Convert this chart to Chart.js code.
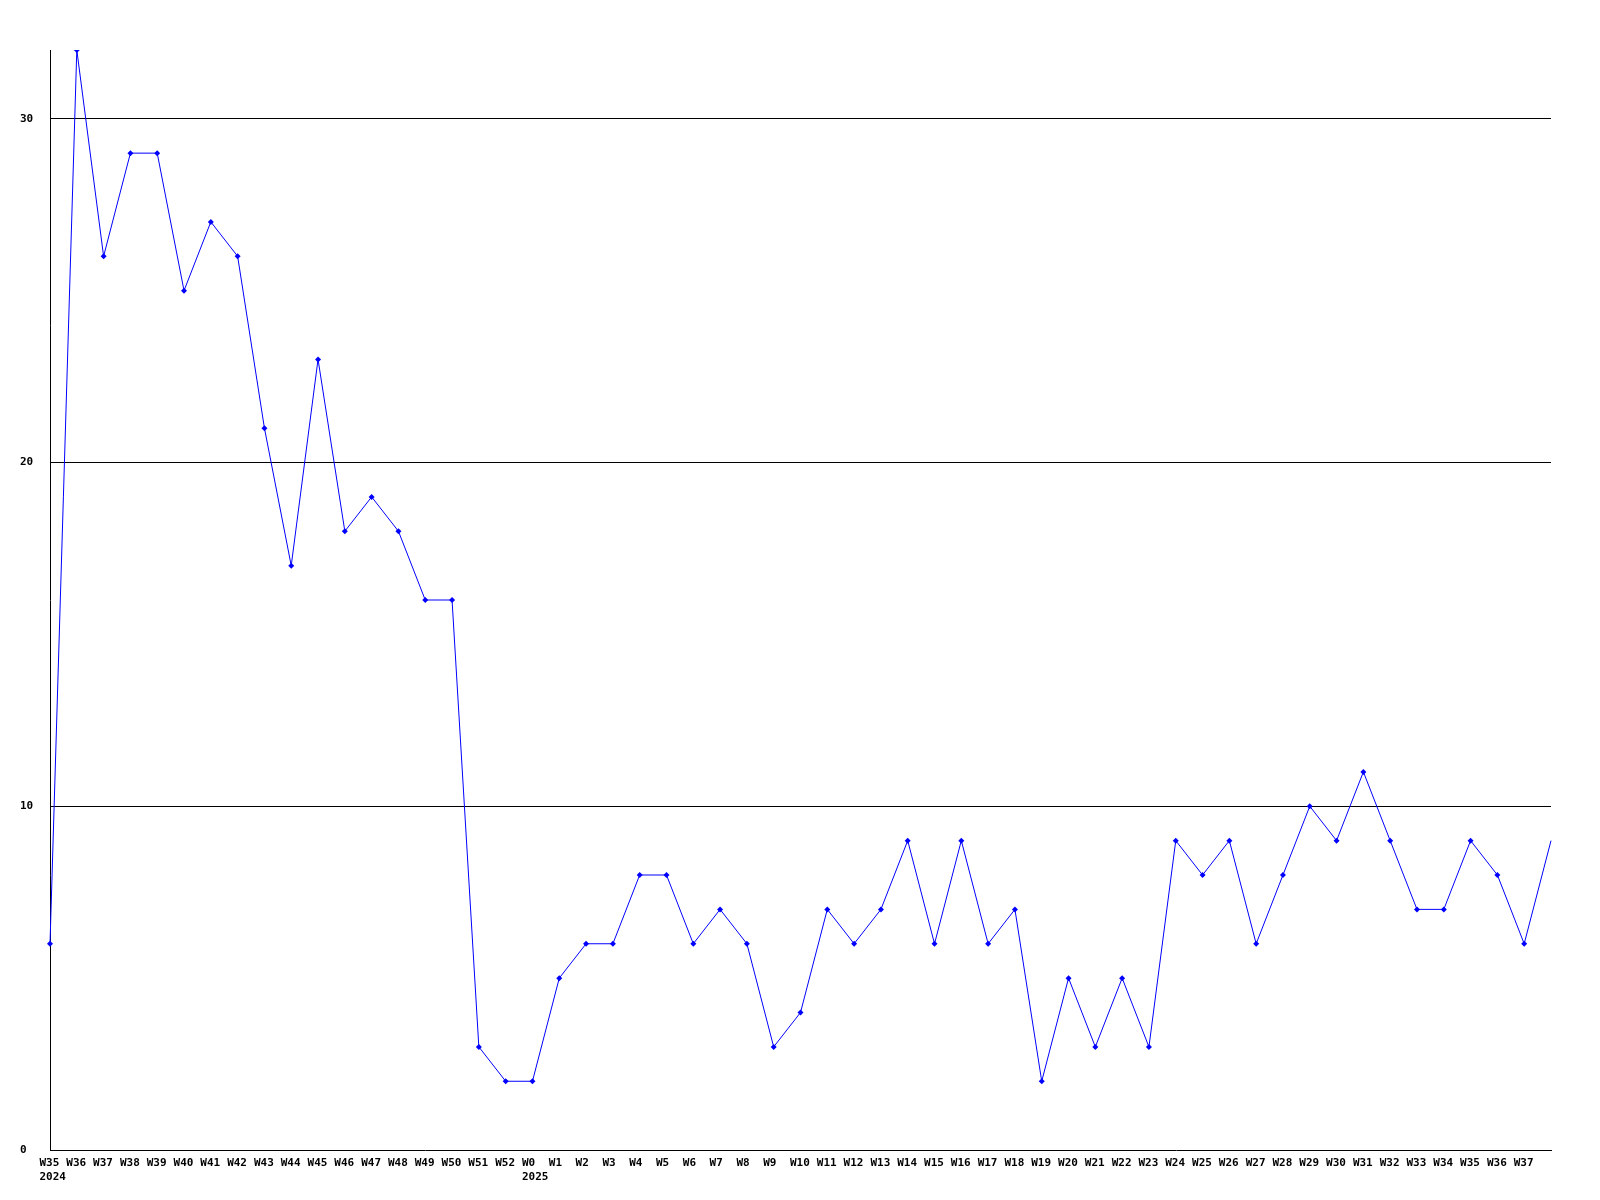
<!DOCTYPE html>
<html>
<head>
<meta charset="utf-8">
<script src="https://cdn.jsdelivr.net/npm/chart.js@4/dist/chart.umd.min.js"></script>
<style>
  html, body { margin: 0; padding: 0; background: #ffffff; }
  #wrap { width: 1600px; height: 1200px; }
</style>
</head>
<body>
<div id="wrap"><canvas id="c" width="1600" height="1200"></canvas></div>
<script>
// Week labels (2024 W35..W52, 2025 W0..W38)
const weekLabels = [
  ["W35", "2024"], "W36", "W37", "W38", "W39", "W40", "W41", "W42", "W43", "W44",
  "W45", "W46", "W47", "W48", "W49", "W50", "W51", "W52",
  ["W0", "2025"], "W1", "W2", "W3", "W4", "W5", "W6", "W7", "W8", "W9",
  "W10", "W11", "W12", "W13", "W14", "W15", "W16", "W17", "W18", "W19",
  "W20", "W21", "W22", "W23", "W24", "W25", "W26", "W27", "W28", "W29",
  "W30", "W31", "W32", "W33", "W34", "W35", "W36", "W37", "W38"
];
// Weekly counts
const weeklyCounts = [
  6, 32, 26, 29, 29, 25, 27, 26, 21, 17,
  23, 18, 19, 18, 16, 16, 3, 2,
  2, 5, 6, 6, 8, 8, 6, 7, 6, 3,
  4, 7, 6, 7, 9, 6, 9, 6, 7, 2,
  5, 3, 5, 3, 9, 8, 9, 6, 8, 10,
  9, 11, 9, 7, 7, 9, 8, 6, 9
];
const yTicks = [0, 10, 20, 30];
const yMax = 32;

const FONT = { family: "'DejaVu Sans Mono', monospace", size: 11, weight: 'bold', lineHeight: 1.3 };
const lastIdx = weekLabels.length - 1;

new Chart(document.getElementById('c'), {
  type: 'line',
  data: {
    labels: weekLabels,
    datasets: [{
      data: weeklyCounts,
      borderColor: '#0000ff',
      backgroundColor: '#0000ff',
      borderWidth: 1,
      tension: 0,
      fill: false,
      pointStyle: 'rectRot',
      pointRadius: (ctx) => ctx.dataIndex === lastIdx ? 0 : 3,
      pointBorderWidth: 0,
      pointBackgroundColor: '#0000ff'
    }]
  },
  options: {
    responsive: false,
    animation: false,
    devicePixelRatio: 1,
    layout: { padding: { left: 20, right: 49, top: 50, bottom: 0 } },
    plugins: { legend: { display: false }, tooltip: { enabled: false } },
    scales: {
      x: {
        type: 'category',
        offset: false,
        grid: { display: false, drawTicks: false },
        border: { display: true, color: '#000000', width: 1 },
        afterFit: (s) => { s.height = 50; },
        ticks: {
          autoSkip: false,
          maxRotation: 0,
          minRotation: 0,
          align: 'start',
          labelOffset: -10.5,
          padding: 6,
          color: '#000000',
          font: FONT,
          callback: function (v, i) { return i === lastIdx ? '' : this.getLabelForValue(v); }
        }
      },
      y: {
        min: 0,
        max: yMax,
        afterBuildTicks: (s) => { s.ticks = yTicks.map(v => ({ value: v })); },
        afterFit: (s) => { s.width = 30; },
        grid: {
          drawTicks: false,
          color: (ctx) => (ctx.tick && ctx.tick.value > 0) ? '#000000' : 'rgba(0,0,0,0)',
          lineWidth: 1
        },
        border: { display: true, color: '#000000', width: 1 },
        ticks: {
          crossAlign: 'far',
          color: '#000000',
          font: FONT,
          padding: 4
        }
      }
    }
  }
});
</script>
</body>
</html>
